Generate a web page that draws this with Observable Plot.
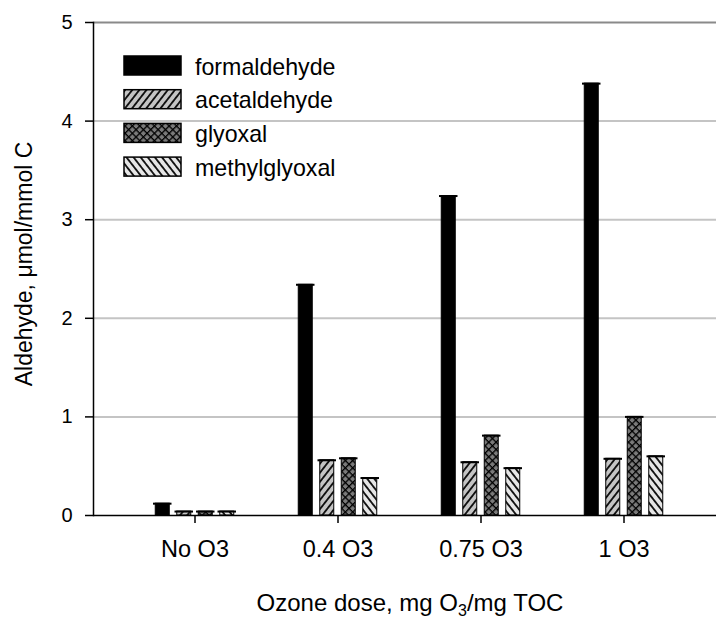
<!DOCTYPE html>
<html>
<head>
<meta charset="utf-8">
<script src="https://cdn.jsdelivr.net/npm/d3@7"></script>
<script src="https://cdn.jsdelivr.net/npm/@observablehq/plot@0.6"></script>
<style>
  html, body { margin: 0; padding: 0; background: #fff; }
  svg { display: block; }
</style>
</head>
<body>
<div id="chart"></div>
<script>
// Ozone dose groups and aldehyde yields (µmol per mmol C)
const groups = ["No O3", "0.4 O3", "0.75 O3", "1 O3"];
const seriesNames = ["formaldehyde", "acetaldehyde", "glyoxal", "methylglyoxal"];
const formaldehyde = [0.12, 2.34, 3.24, 4.38];
const acetaldehyde = [0.04, 0.56, 0.54, 0.575];
const glyoxal = [0.04, 0.58, 0.81, 1.00];
const methylglyoxal = [0.04, 0.38, 0.48, 0.60];
const yTicks = [0, 1, 2, 3, 4, 5];
const yLabel = "Aldehyde, μmol/mmol C";
const xLabelParts = ["Ozone dose, mg O", "3", "/mg TOC"];

const seriesValues = [formaldehyde, acetaldehyde, glyoxal, methylglyoxal];
const rows = seriesNames.flatMap((s, si) =>
  seriesValues[si].map((v, gi) => ({group: groups[gi], series: s, value: v}))
);

const fills = {
  formaldehyde: "black",
  acetaldehyde: "url(#p-acet)",
  glyoxal: "url(#p-gly)",
  methylglyoxal: "url(#p-mgly)"
};

// layout
const W = 716, H = 618;
const mL = 93, mT = 22, mB = 103, mR = 0;
const groupStep = 143.5;
const firstCenter = 194;
const xRange = [firstCenter - groupStep / 2, firstCenter + groupStep * (groups.length - 0.5)];
const barStep = 21.5, barW = 14.5, capW = 19;
const font = "'Liberation Sans', Arial, Helvetica, sans-serif";

const barMarks = seriesNames.flatMap((s, si) => {
  const off = (si - (seriesNames.length - 1) / 2) * barStep;
  const data = rows.filter(d => d.series === s);
  const inBar = (groupStep - barW) / 2;
  const inCap = (groupStep - capW) / 2;
  return [
    Plot.barY(data, {
      x: "group", y: "value", fill: fills[s], stroke: "black", strokeWidth: 1,
      insetLeft: inBar, insetRight: inBar, dx: off
    }),
    Plot.tickY(data, {
      x: "group", y: "value", stroke: "black", strokeWidth: 2,
      insetLeft: inCap, insetRight: inCap, dx: off
    })
  ];
});

const svg = Plot.plot({
  width: W, height: H,
  marginLeft: mL, marginTop: mT, marginBottom: mB, marginRight: mR,
  style: {fontFamily: font, color: "black", background: "white"},
  x: {type: "band", domain: groups, range: xRange, padding: 0, axis: null},
  y: {domain: [0, 5], axis: null},
  marks: [
    Plot.gridY({ticks: [1, 2, 3, 4], stroke: "#c4c4c4", strokeOpacity: 1, strokeWidth: 2}),
    Plot.ruleY([5], {stroke: "#8a8a8a", strokeWidth: 2}),
    ...barMarks,
    Plot.ruleY([0], {stroke: "black", strokeWidth: 1.5}),
    Plot.frame({anchor: "left", stroke: "black", strokeWidth: 1.5}),
    Plot.axisY({ticks: yTicks, tickFormat: d => String(d), tickSize: 8, tickPadding: 13,
      fontSize: 20, label: null, strokeWidth: 1.5}),
    Plot.axisX({tickSize: 8, tickPadding: 17, fontSize: 23.5, label: null, strokeWidth: 1.5})
  ]
});

const root = d3.select(svg);

// fill patterns
const defs = root.insert("defs", ":first-child");
function stripes(id, bg, angle, size) {
  const p = defs.append("pattern").attr("id", id)
    .attr("patternUnits", "userSpaceOnUse")
    .attr("width", size).attr("height", size)
    .attr("patternTransform", `rotate(${angle})`);
  p.append("rect").attr("width", size).attr("height", size).attr("fill", bg);
  p.append("line").attr("x1", size / 2).attr("x2", size / 2).attr("y1", 0).attr("y2", size)
    .attr("stroke", "black").attr("stroke-width", 1.7);
}
stripes("p-acet", "#c4c4c4", 38, 5.6);
stripes("p-mgly", "#e6e6e6", -38, 5.6);
{
  const s = 5.2;
  const p = defs.append("pattern").attr("id", "p-gly")
    .attr("patternUnits", "userSpaceOnUse")
    .attr("width", s).attr("height", s)
    .attr("patternTransform", "rotate(45)");
  p.append("rect").attr("width", s).attr("height", s).attr("fill", "#7a7a7a");
  p.append("line").attr("x1", 0).attr("x2", s).attr("y1", 0.6).attr("y2", 0.6)
    .attr("stroke", "black").attr("stroke-width", 1.4);
  p.append("line").attr("y1", 0).attr("y2", s).attr("x1", 0.6).attr("x2", 0.6)
    .attr("stroke", "black").attr("stroke-width", 1.4);
}

// legend
const legend = root.append("g").attr("font-family", font).attr("font-size", 23.2)
  .attr("text-anchor", "start");
seriesNames.forEach((s, i) => {
  const top = 56 + i * 33.7;
  legend.append("rect").attr("x", 124).attr("y", top).attr("width", 57).attr("height", 19)
    .attr("fill", fills[s]).attr("stroke", "black").attr("stroke-width", 1.5);
  legend.append("text").attr("x", 195).attr("y", top + 18.5).attr("fill", "black")
    .attr("text-anchor", "start").text(s);
});

// axis titles
root.append("text")
  .attr("transform", "translate(32,264) rotate(-90)")
  .attr("text-anchor", "middle").attr("font-family", font).attr("font-size", 23)
  .attr("fill", "black").text(yLabel);

const xt = root.append("text")
  .attr("x", 410).attr("y", 611)
  .attr("text-anchor", "middle").attr("font-family", font).attr("font-size", 24)
  .attr("fill", "black");
xt.append("tspan").text(xLabelParts[0]);
xt.append("tspan").attr("font-size", 16).attr("dy", 5).text(xLabelParts[1]);
xt.append("tspan").attr("dy", -5).text(xLabelParts[2]);

document.getElementById("chart").appendChild(svg);
</script>
</body>
</html>
